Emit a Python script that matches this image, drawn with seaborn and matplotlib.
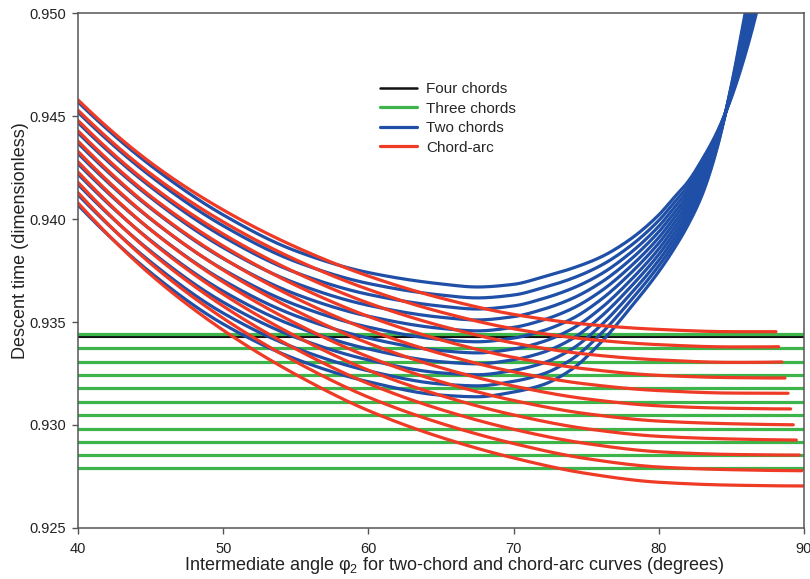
import numpy as np
import pandas as pd
import matplotlib
matplotlib.use("Agg")
import matplotlib.pyplot as plt
import seaborn as sns
from matplotlib.lines import Line2D

# ---------------- data ----------------
four_chords = [0.93426]

three_chords = [0.93440, 0.93374, 0.93307, 0.93243, 0.93178, 0.93112,
                0.93047, 0.92982, 0.92916, 0.92854, 0.92790]

# Chord-arc curves: common angle grid + each curve's last point
arc_x = [40, 45, 50, 55, 60, 65, 70, 75, 80, 85]
arc_y = [
    [0.94578, 0.94274, 0.94044, 0.93864, 0.93723, 0.93616, 0.93537, 0.93489, 0.93464, 0.93453],
    [0.94528, 0.94220, 0.93986, 0.93802, 0.93658, 0.93548, 0.93467, 0.93417, 0.93390, 0.93379],
    [0.94478, 0.94165, 0.93927, 0.93740, 0.93592, 0.93481, 0.93398, 0.93344, 0.93316, 0.93304],
    [0.94428, 0.94111, 0.93869, 0.93678, 0.93527, 0.93413, 0.93328, 0.93272, 0.93241, 0.93230],
    [0.94378, 0.94056, 0.93810, 0.93616, 0.93462, 0.93346, 0.93258, 0.93199, 0.93167, 0.93155],
    [0.94328, 0.94002, 0.93752, 0.93555, 0.93397, 0.93278, 0.93189, 0.93127, 0.93093, 0.93081],
    [0.94278, 0.93948, 0.93694, 0.93493, 0.93331, 0.93210, 0.93119, 0.93055, 0.93019, 0.93006],
    [0.94228, 0.93893, 0.93635, 0.93431, 0.93266, 0.93143, 0.93049, 0.92982, 0.92945, 0.92932],
    [0.94178, 0.93839, 0.93577, 0.93369, 0.93201, 0.93075, 0.92979, 0.92910, 0.92870, 0.92857],
    [0.94128, 0.93784, 0.93518, 0.93307, 0.93135, 0.93008, 0.92910, 0.92837, 0.92796, 0.92783],
    [0.94078, 0.93730, 0.93460, 0.93245, 0.93070, 0.92940, 0.92840, 0.92765, 0.92722, 0.92708],
]
arc_end_x = [88.07, 88.25, 88.48, 88.69, 88.90, 89.08, 89.26, 89.47, 89.68, 89.84, 90.00]
arc_end_y = [0.93453, 0.93380, 0.93306, 0.93228, 0.93154, 0.93078, 0.93001, 0.92927, 0.92854, 0.92778, 0.92704]

# Two-chord curves
two_x = [40, 45, 50, 55, 60, 65, 67.5, 70, 72, 74, 76, 78, 80, 81, 82, 83, 84, 85, 86, 87]
two_y = [
    [0.94568, 0.94260, 0.94020, 0.93845, 0.93740, 0.93685, 0.93670, 0.93683, 0.93718, 0.93760, 0.93815, 0.93900, 0.94020, 0.94100, 0.94180, 0.94290, 0.94420, 0.94590, 0.94810, 0.95080],
    [0.94518, 0.94208, 0.93967, 0.93793, 0.93687, 0.93631, 0.93617, 0.93631, 0.93666, 0.93711, 0.93774, 0.93867, 0.93993, 0.94075, 0.94159, 0.94273, 0.94412, 0.94596, 0.94831, 0.95112],
    [0.94468, 0.94156, 0.93914, 0.93740, 0.93634, 0.93577, 0.93563, 0.93578, 0.93613, 0.93662, 0.93732, 0.93833, 0.93965, 0.94050, 0.94138, 0.94256, 0.94404, 0.94602, 0.94852, 0.95144],
    [0.94418, 0.94104, 0.93861, 0.93688, 0.93581, 0.93523, 0.93510, 0.93526, 0.93561, 0.93613, 0.93691, 0.93800, 0.93938, 0.94025, 0.94117, 0.94239, 0.94396, 0.94608, 0.94873, 0.95176],
    [0.94368, 0.94052, 0.93808, 0.93635, 0.93528, 0.93469, 0.93457, 0.93474, 0.93509, 0.93564, 0.93649, 0.93766, 0.93910, 0.94000, 0.94096, 0.94222, 0.94388, 0.94614, 0.94894, 0.95208],
    [0.94318, 0.94000, 0.93755, 0.93583, 0.93475, 0.93415, 0.93404, 0.93422, 0.93457, 0.93515, 0.93608, 0.93733, 0.93883, 0.93975, 0.94075, 0.94205, 0.94380, 0.94620, 0.94915, 0.95240],
    [0.94268, 0.93948, 0.93702, 0.93530, 0.93422, 0.93361, 0.93350, 0.93369, 0.93404, 0.93466, 0.93566, 0.93699, 0.93855, 0.93950, 0.94054, 0.94188, 0.94372, 0.94626, 0.94936, 0.95272],
    [0.94218, 0.93896, 0.93649, 0.93478, 0.93369, 0.93307, 0.93297, 0.93317, 0.93352, 0.93417, 0.93525, 0.93666, 0.93828, 0.93925, 0.94033, 0.94171, 0.94364, 0.94632, 0.94957, 0.95304],
    [0.94168, 0.93844, 0.93596, 0.93425, 0.93316, 0.93253, 0.93244, 0.93265, 0.93300, 0.93368, 0.93483, 0.93632, 0.93800, 0.93900, 0.94012, 0.94154, 0.94356, 0.94638, 0.94978, 0.95336],
    [0.94118, 0.93792, 0.93543, 0.93373, 0.93263, 0.93199, 0.93190, 0.93212, 0.93247, 0.93319, 0.93442, 0.93599, 0.93773, 0.93875, 0.93991, 0.94137, 0.94348, 0.94644, 0.94999, 0.95368],
    [0.94068, 0.93740, 0.93490, 0.93320, 0.93210, 0.93145, 0.93137, 0.93160, 0.93195, 0.93270, 0.93400, 0.93565, 0.93745, 0.93850, 0.93970, 0.94120, 0.94340, 0.94650, 0.95020, 0.95400],
]

x_range = [40, 90]
x_ticks = [40, 50, 60, 70, 80, 90]
y_ticks = [0.925, 0.930, 0.935, 0.940, 0.945, 0.950]
labels = ["Four chords", "Three chords", "Two chords", "Chord-arc"]

C_BLACK = "#111111"
C_GREEN = "#3db54a"
C_BLUE = "#1f4fa6"
C_RED = "#ef3a26"


def smooth_line(xs, ys, per_seg=24):
    """Shape-preserving cubic (PCHIP) drawing path through the read points."""
    x = np.asarray(xs, float)
    y = np.asarray(ys, float)
    h = np.diff(x)
    d = np.diff(y) / h
    n = len(x)
    m = np.zeros(n)
    for k in range(1, n - 1):
        if d[k - 1] * d[k] > 0:
            w1 = 2 * h[k] + h[k - 1]
            w2 = h[k] + 2 * h[k - 1]
            m[k] = (w1 + w2) / (w1 / d[k - 1] + w2 / d[k])
    m0 = ((2 * h[0] + h[1]) * d[0] - h[0] * d[1]) / (h[0] + h[1])
    if np.sign(m0) != np.sign(d[0]):
        m0 = 0.0
    m[0] = m0
    mn = ((2 * h[-1] + h[-2]) * d[-1] - h[-1] * d[-2]) / (h[-1] + h[-2])
    if np.sign(mn) != np.sign(d[-1]):
        mn = 0.0
    m[-1] = mn
    ox, oy = [], []
    for k in range(n - 1):
        t = np.linspace(0, 1, per_seg, endpoint=(k == n - 2))
        h00 = 2 * t**3 - 3 * t**2 + 1
        h10 = t**3 - 2 * t**2 + t
        h01 = -2 * t**3 + 3 * t**2
        h11 = t**3 - t**2
        ox.extend(x[k] + t * h[k])
        oy.extend(h00 * y[k] + h10 * h[k] * m[k] + h01 * y[k + 1] + h11 * h[k] * m[k + 1])
    return ox, oy


# ---------------- build long-form table ----------------
rows = []
for k, v in enumerate(four_chords):
    for xx in x_range:
        rows.append(("four", f"f{k}", xx, v))
for k, v in enumerate(three_chords):
    for xx in x_range:
        rows.append(("three", f"t{k}", xx, v))
for k, ys in enumerate(two_y):
    sx, sy = smooth_line(two_x, ys)
    for xx, yy in zip(sx, sy):
        rows.append(("two", f"b{k}", xx, yy))
for k, ys in enumerate(arc_y):
    sx, sy = smooth_line(arc_x + [arc_end_x[k]], ys + [arc_end_y[k]])
    for xx, yy in zip(sx, sy):
        rows.append(("arc", f"r{k}", xx, yy))
df = pd.DataFrame(rows, columns=["family", "curve", "x", "y"])

# ---------------- figure ----------------
sns.set_theme(style="white")
plt.rcParams["font.family"] = ["Liberation Sans", "DejaVu Sans"]
plt.rcParams["mathtext.fontset"] = "custom"
plt.rcParams["mathtext.rm"] = "Liberation Sans"
plt.rcParams["mathtext.it"] = "Liberation Sans:italic"
plt.rcParams["mathtext.bf"] = "Liberation Sans:bold"

fig = plt.figure(figsize=(8.10, 5.79), dpi=100)
ax = fig.add_axes([0.0963, 0.0881, 0.8963, 0.8894])

styles = [("four", C_BLACK, 1.5), ("three", C_GREEN, 2.3),
          ("two", C_BLUE, 2.3), ("arc", C_RED, 2.3)]
for fam, col, lw in styles:
    sub = df[df["family"] == fam]
    sns.lineplot(data=sub, x="x", y="y", units="curve", estimator=None,
                 sort=False, color=col, linewidth=lw, ax=ax, legend=False)

ax.set_xlim(40, 90)
ax.set_ylim(0.925, 0.950)
ax.set_xticks(x_ticks)
ax.set_yticks(y_ticks)
ax.set_yticklabels([f"{t:.3f}" for t in y_ticks])
ax.set_xticklabels([str(t) for t in x_ticks])

for s in ax.spines.values():
    s.set_color("#555555")
    s.set_linewidth(1.1)
    s.set_visible(True)
ax.tick_params(axis="both", which="major", direction="out", length=4.3,
               width=1.0, color="#555555", labelsize=10.5, labelcolor="#222222",
               bottom=True, left=True, top=False, right=False, pad=4)
ax.tick_params(axis="x", pad=6)

ax.set_xlabel("Intermediate angle \u03c6$_2$ for two-chord and chord-arc curves (degrees)",
              fontsize=13, color="#222222")
ax.set_ylabel("Descent time (dimensionless)", fontsize=13, color="#222222")
ax.xaxis.set_label_coords(0.5186, -0.052)
ax.yaxis.set_label_coords(-0.0675, 0.558)

handles = [Line2D([0], [0], color=C_BLACK, lw=1.8),
           Line2D([0], [0], color=C_GREEN, lw=2.3),
           Line2D([0], [0], color=C_BLUE, lw=2.3),
           Line2D([0], [0], color=C_RED, lw=2.3)]
ax.legend(handles, labels, loc="upper left", bbox_to_anchor=(0.416, 0.866),
          frameon=False, fontsize=11, handlelength=2.4, handletextpad=0.6,
          labelspacing=0.36, borderpad=0, borderaxespad=0)

fig.savefig("out.png", dpi=100)
